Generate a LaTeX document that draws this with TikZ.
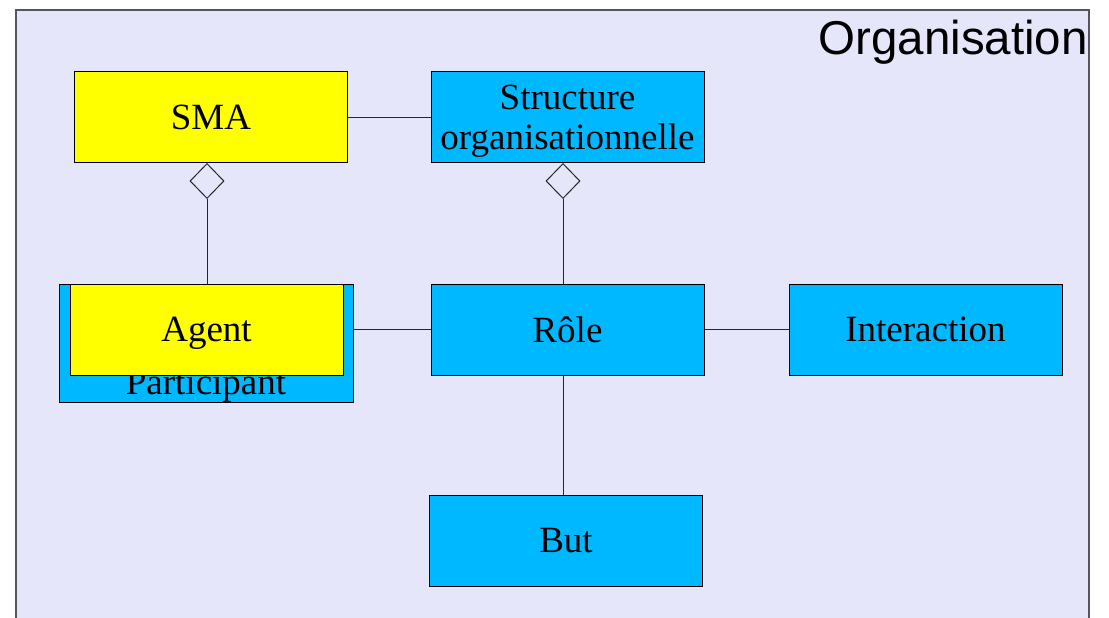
\documentclass[tikz,border=0pt]{standalone}
\usepackage{fontspec}
\setmainfont{Liberation Serif}
\newfontfamily\headfont{Liberation Sans}
\usetikzlibrary{shapes.geometric}
\definecolor{lavender}{RGB}{230,230,250}
\definecolor{skyblue}{RGB}{0,184,255}
\definecolor{classyellow}{RGB}{255,255,0}
\definecolor{framegray}{RGB}{85,85,95}
\tikzset{
  classfont/.style={font=\fontsize{37}{40}\selectfont},
  box/.style={draw=black, line width=1pt, inner sep=0pt, minimum width=273pt, minimum height=91pt,
              classfont, align=center, text depth=0pt},
  bluebox/.style={box, fill=skyblue},
  yellowbox/.style={box, fill=classyellow},
  link/.style={draw=black!85, line width=1pt},
  aggr/.style={diamond, draw=black!85, fill=lavender, line width=1pt, inner sep=0pt,
               minimum width=34pt, minimum height=35pt}
}
\begin{document}
\begin{tikzpicture}[x=1pt, y=-1pt]
  \useasboundingbox (0,0) rectangle (1109,618);
  % package frame
  \begin{scope}
    \clip (0,0) rectangle (1109,618);
    \draw[framegray, line width=1.5pt, fill=lavender] (16,10) rectangle (1089,630);
  \end{scope}
  \node[anchor=base east, font=\headfont\fontsize{47.5}{50}\selectfont, inner sep=0pt] (title) at (1088,55) {Organisation};

  % classes
  \node[yellowbox] (sma) at (211,117) {SMA};
  \node[bluebox] (struct) at (567.5,117) {Structure\\organisationnelle};
  \node[bluebox, minimum width=294pt, minimum height=118pt] (participant) at (206,343) {};
  \node[classfont, anchor=base, inner sep=0pt] (participanttext) at (206,394) {Participant};
  \node[yellowbox] (agent) at (206.5,329.5) {Agent};
  \node[bluebox] (role) at (567.5,329.5) {Rôle};
  \node[bluebox] (interaction) at (925.5,329.5) {Interaction};
  \node[bluebox] (but) at (566,540.5) {But};

  % aggregation diamonds
  \coordinate (smaaxis) at (207,0);
  \coordinate (roleaxis) at (563,0);
  \node[aggr, anchor=north] (dsma) at (sma.south -| smaaxis) {};
  \node[aggr, anchor=north] (dstruct) at (struct.south -| roleaxis) {};

  % connectors
  \draw[link] (sma.east) -- (struct.west);
  \draw[link] (dsma.south) -- (dsma.south |- agent.north);
  \draw[link] (dstruct.south) -- (dstruct.south |- role.north);
  \draw[link] (participant.east |- role.west) -- (role.west);
  \draw[link] (role.east) -- (interaction.west);
  \draw[link] (role.south -| roleaxis) -- (but.north -| roleaxis);
\end{tikzpicture}
\end{document}
